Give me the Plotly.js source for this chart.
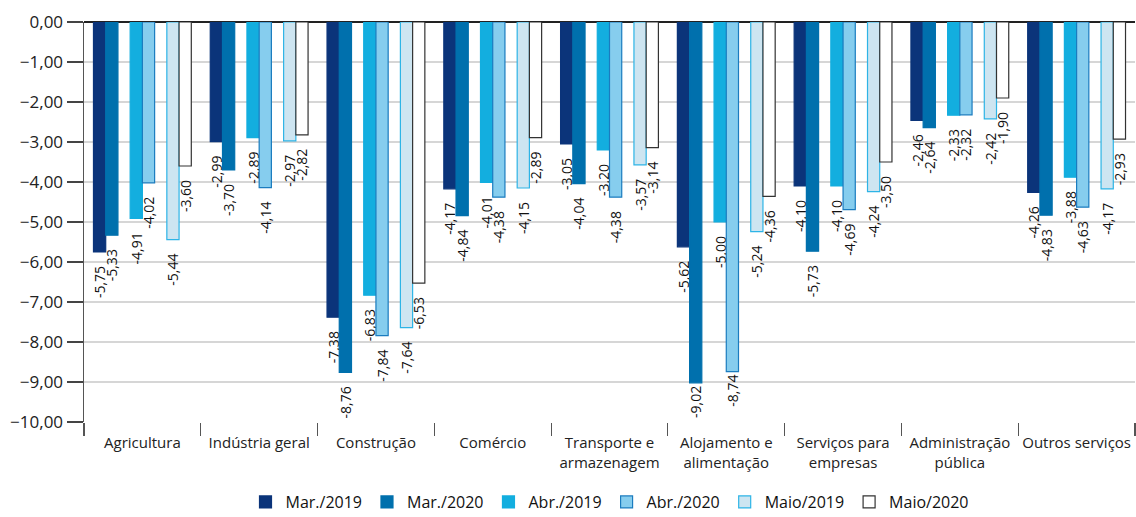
<!DOCTYPE html>
<html>
<head>
<meta charset="utf-8">
<script src="https://cdn.plot.ly/plotly-3.0.1.min.js"></script>
<style>html,body{margin:0;padding:0;background:#fff;}#chart{width:1136px;height:517px;}</style>
</head>
<body>
<div id="chart"></div>
<script>
const categories = ['Agricultura','Indústria geral','Construção','Comércio','Transporte e<br>armazenagem','Alojamento e<br>alimentação','Serviços para<br>empresas','Administração<br>pública','Outros serviços'];
const seriesNames = ['Mar./2019','Mar./2020','Abr./2019','Abr./2020','Maio/2019','Maio/2020'];
const mar2019 = [-5.75,-2.99,-7.38,-4.17,-3.05,-5.62,-4.10,-2.46,-4.26];
const mar2020 = [-5.33,-3.70,-8.76,-4.84,-4.04,-9.02,-5.73,-2.64,-4.83];
const abr2019 = [-4.91,-2.89,-6.83,-4.01,-3.20,-5.00,-4.10,-2.33,-3.88];
const abr2020 = [-4.02,-4.14,-7.84,-4.38,-4.38,-8.74,-4.69,-2.32,-4.63];
const mai2019 = [-5.44,-2.97,-7.64,-4.15,-3.57,-5.24,-4.24,-2.42,-4.17];
const mai2020 = [-3.60,-2.82,-6.53,-2.89,-3.14,-4.36,-3.50,-1.90,-2.93];
const yTicks = [0,-1,-2,-3,-4,-5,-6,-7,-8,-9,-10];

const seriesValues = [mar2019, mar2020, abr2019, abr2020, mai2019, mai2020];
const fills = ['#0b347a','#0070ad','#13aedf','#86cdee','#cde5f1','#ffffff'];
const lines = ['#0b347a','#0070ad','#13aedf','#1b7cbf','#2db4e6','#333333'];
const slots = [0,1,3,4,6,7];
const slotW = 0.1047;
const start = -0.4188;
const fmt = v => v.toFixed(2).replace('.', ',') + (v < -8.7 && v !== -8.76 ? '' : '\u00a0\u00a0\u00a0');

const traces = seriesValues.map((vals, i) => ({
  type: 'bar',
  name: seriesNames[i],
  x: categories,
  y: vals,
  text: vals.map(fmt),
  textposition: 'outside',
  textangle: -90,
  constraintext: 'none',
  cliponaxis: false,
  textfont: {family: 'Open Sans, sans-serif', size: 14, color: '#111'},
  marker: {color: fills[i], line: {color: lines[i], width: 1.2}},
  width: slotW,
  offset: start + slots[i] * slotW,
  hoverinfo: 'none'
}));

const layout = {
  width: 1136, height: 517,
  margin: {l: 84, r: 1, t: 22, b: 95, autoexpand: false},
  paper_bgcolor: '#fff', plot_bgcolor: '#fff',
  separators: ',.',
  font: {family: 'Open Sans, sans-serif', color: '#222'},
  showlegend: true,
  legend: {orientation: 'h', x: 0.5, xanchor: 'center', y: -0.2, yanchor: 'middle',
           font: {size: 16, color: '#111'}, itemwidth: 30, traceorder: 'normal'},
  xaxis: {type: 'category', tickson: 'boundaries', ticks: 'outside', ticklen: 13, tickwidth: 1.2,
          tickcolor: '#555', showgrid: false, showline: false, zeroline: false, tickangle: 0,
          ticklabelstandoff: 10,
          automargin: false, tickfont: {size: 15, color: '#222'}, range: [-0.5, 8.5], fixedrange: true},
  yaxis: {range: [-10, 0], tickvals: yTicks, tickformat: '.2f', ticks: 'outside', ticklen: 16,
          tickwidth: 1.2, tickcolor: '#444', showline: true, linecolor: '#555', linewidth: 1.5,
          showgrid: true, gridcolor: '#d6d6d6', gridwidth: 1.2, automargin: false,
          zeroline: true, zerolinecolor: '#222', zerolinewidth: 1.5,
          tickfont: {size: 17, color: '#222'}, fixedrange: true}
};

Plotly.newPlot('chart', traces, layout, {displayModeBar: false, staticPlot: true});
</script>
</body>
</html>
